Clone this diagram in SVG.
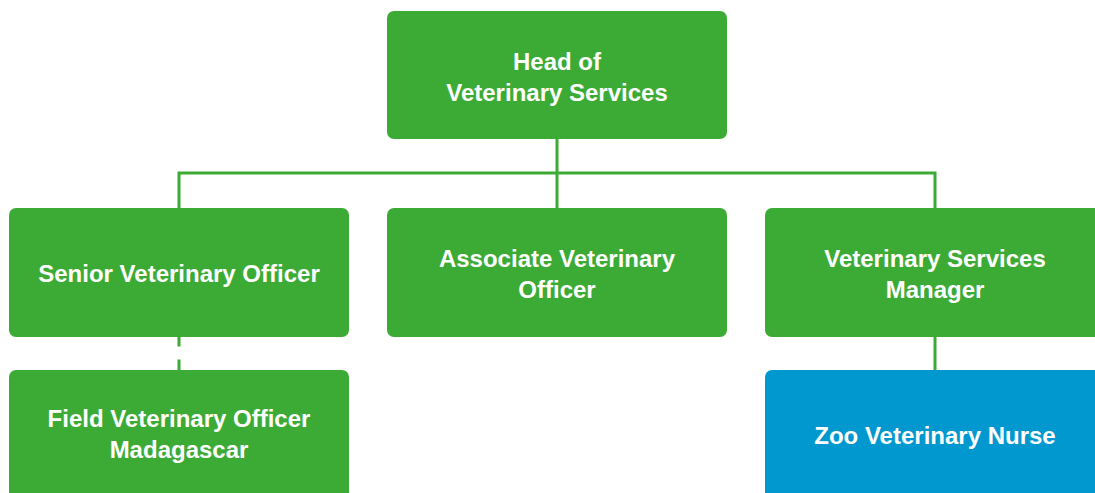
<svg xmlns="http://www.w3.org/2000/svg" width="1095" height="493" viewBox="0 0 1095 493">
<style>
.g{fill:#3cab35}
.b{fill:#0098cf}
.t{font-family:"Liberation Sans",Arial,sans-serif;font-weight:bold;font-size:24px;fill:#fff;text-anchor:middle}
.c{stroke:#3cab35;stroke-width:3;fill:none}
</style>
<rect width="1095" height="493" fill="#fff"/>
<g id="connectors">
<path class="c" d="M557 139V173M179 208V173H935V208M557 173V208M935 337V370M179 337V346.5M179 359.5V370"/>
</g>
<g id="head"><rect class="g" x="387" y="11" width="340" height="128" rx="7"/><text class="t" x="557" y="69.5">Head of</text><text class="t" x="557" y="100.5">Veterinary Services</text></g>
<g id="senior"><rect class="g" x="9" y="208" width="340" height="129" rx="7"/><text class="t" x="179" y="281.5">Senior Veterinary Officer</text></g>
<g id="associate"><rect class="g" x="387" y="208" width="340" height="129" rx="7"/><text class="t" x="557" y="266.5">Associate Veterinary</text><text class="t" x="557" y="297.5">Officer</text></g>
<g id="manager"><rect class="g" x="765" y="208" width="340" height="129" rx="7"/><text class="t" x="935" y="266.5">Veterinary Services</text><text class="t" x="935" y="297.5">Manager</text></g>
<g id="field"><rect class="g" x="9" y="370" width="340" height="140" rx="7"/><text class="t" x="179" y="426.5">Field Veterinary Officer</text><text class="t" x="179" y="457.5">Madagascar</text></g>
<g id="nurse"><rect class="b" x="765" y="370" width="340" height="140" rx="7"/><text class="t" x="935" y="443.5">Zoo Veterinary Nurse</text></g>
</svg>
